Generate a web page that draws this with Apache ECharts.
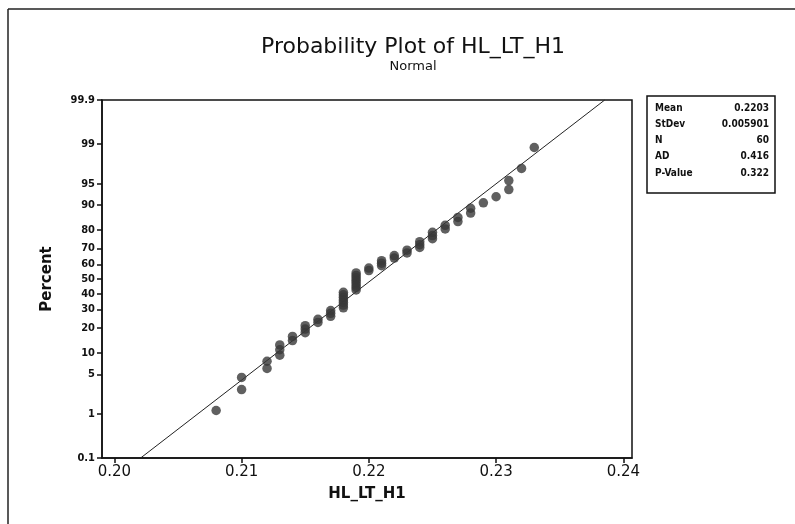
<!DOCTYPE html>
<html><head><meta charset="utf-8">
<script src="https://cdn.jsdelivr.net/npm/echarts@6/dist/echarts.min.js"></script>
<style>html,body{margin:0;padding:0;background:#fff}#c{width:795px;height:524px}</style>
</head><body><div id="c"></div>
<script>
// data values (HL_LT_H1), sorted
const xValues = [0.208,0.210,0.210,0.212,0.212,0.213,0.213,0.213,0.214,0.214,
  0.215,0.215,0.215,0.216,0.216,0.217,0.217,0.217,0.218,0.218,
  0.218,0.218,0.218,0.218,0.218,0.219,0.219,0.219,0.219,0.219,
  0.219,0.219,0.219,0.220,0.220,0.221,0.221,0.221,0.222,0.222,
  0.223,0.223,0.224,0.224,0.224,0.225,0.225,0.225,0.226,0.226,
  0.227,0.227,0.228,0.228,0.229,0.230,0.231,0.231,0.232,0.233];
// plotting positions (percent)
const percents = [1.159,2.815,4.470,6.126,7.781,9.437,11.093,12.748,14.404,16.060,
  17.715,19.371,21.026,22.682,24.338,25.993,27.649,29.305,30.960,32.616,
  34.272,35.927,37.583,39.238,40.894,42.550,44.205,45.861,47.517,49.172,
  50.828,52.483,54.139,55.795,57.450,59.106,60.762,62.417,64.073,65.728,
  67.384,69.040,70.695,72.351,74.007,75.662,77.318,78.974,80.629,82.285,
  83.940,85.596,87.252,88.907,90.563,92.219,93.874,95.530,97.185,98.841];
const yTickPercents = [0.1,1,5,10,20,30,40,50,60,70,80,90,95,99,99.9];
const yTickLabels = ['0.1','1','5','10','20','30','40','50','60','70','80','90','95','99','99.9'];
const xTicks = [0.20,0.21,0.22,0.23,0.24];
const statLabels = ['Mean','StDev','N','AD','P-Value'];
const statValues = ['0.2203','0.005901','60','0.416','0.322'];
const fitMean = 0.2203, fitSd = 0.005901;

function invNorm(p){
  const a=[-3.969683028665376e+01,2.209460984245205e+02,-2.759285104469687e+02,1.383577518672690e+02,-3.066479806614716e+01,2.506628277459239e+00];
  const b=[-5.447609879822406e+01,1.615858368580409e+02,-1.556989798598866e+02,6.680131188771972e+01,-1.328068155288572e+01];
  const c=[-7.784894002430293e-03,-3.223964580411365e-01,-2.400758277161838e+00,-2.549732539343734e+00,4.374664141464968e+00,2.938163982698783e+00];
  const d=[7.784695709041462e-03,3.224671290700398e-01,2.445134137142996e+00,3.754408661907416e+00];
  const pl=0.02425, ph=1-pl; let q,r;
  if(p<pl){q=Math.sqrt(-2*Math.log(p));return (((((c[0]*q+c[1])*q+c[2])*q+c[3])*q+c[4])*q+c[5])/((((d[0]*q+d[1])*q+d[2])*q+d[3])*q+1);}
  if(p<=ph){q=p-0.5;r=q*q;return (((((a[0]*r+a[1])*r+a[2])*r+a[3])*r+a[4])*r+a[5])*q/(((((b[0]*r+b[1])*r+b[2])*r+b[3])*r+b[4])*r+1);}
  q=Math.sqrt(-2*Math.log(1-p));return -(((((c[0]*q+c[1])*q+c[2])*q+c[3])*q+c[4])*q+c[5])/((((d[0]*q+d[1])*q+d[2])*q+d[3])*q+1);
}
const yTickZ = yTickPercents.map(p=>invNorm(p/100));
const zMin = yTickZ[0], zMax = yTickZ[yTickZ.length-1];
const points = xValues.map((x,i)=>[x, invNorm(percents[i]/100)]);
const fitLine = [[fitMean+fitSd*zMin, zMin],[fitMean+fitSd*zMax, zMax]];

const FONT = "'DejaVu Sans',sans-serif";
const CFONT = "'DejaVu Sans Condensed','DejaVu Sans',sans-serif";
const chart = echarts.init(document.getElementById('c'), null, {renderer:'canvas'});

const statGraphics = [];
statLabels.forEach((s,i)=>{
  statGraphics.push({type:'text', x:655, y:103+i*16.3, style:{text:s, font:'bold 10px '+CFONT, fill:'#111', align:'left'}});
  statGraphics.push({type:'text', x:769, y:103+i*16.3, style:{text:statValues[i], font:'bold 10px '+CFONT, fill:'#111', align:'right'}});
});

chart.setOption({
  animation:false,
  backgroundColor:'#fff',
  grid:{left:102, top:100, right:163, bottom:66, show:true, borderColor:'#111', borderWidth:1.5, backgroundColor:'transparent'},
  xAxis:{type:'value', min:0.19903, max:0.24068,
    name:'HL_LT_H1', nameLocation:'middle', nameGap:29,
    nameTextStyle:{fontFamily:FONT, fontWeight:'bold', fontSize:15, color:'#111'},
    axisLine:{show:true, onZero:false, lineStyle:{color:'#111', width:1.5}},
    axisTick:{show:true, length:5, lineStyle:{color:'#111', width:1.5}, customValues:xTicks},
    axisLabel:{customValues:xTicks, formatter:v=>v.toFixed(2), fontFamily:FONT, fontSize:15, color:'#111', margin:7},
    splitLine:{show:false}},
  yAxis:{type:'value', min:zMin, max:zMax,
    name:'Percent', nameLocation:'middle', nameGap:47, nameRotate:90,
    nameTextStyle:{fontFamily:FONT, fontWeight:'bold', fontSize:15, color:'#111'},
    axisLine:{show:true, onZero:false, lineStyle:{color:'#111', width:1.5}},
    axisTick:{show:true, length:5, lineStyle:{color:'#111', width:1.5}, customValues:yTickZ},
    axisLabel:{customValues:yTickZ, fontFamily:CFONT, fontWeight:'bold', fontSize:11, color:'#111', margin:7,
      formatter:function(v){let best=0,bd=1e9;yTickZ.forEach((z,i)=>{const dd=Math.abs(z-v);if(dd<bd){bd=dd;best=i;}});return yTickLabels[best];}},
    splitLine:{show:false}},
  series:[
    {type:'line', data:fitLine, symbol:'none', clip:true, lineStyle:{color:'#222', width:1}, silent:true, z:2},
    {type:'scatter', data:points, symbol:'circle', symbolSize:9.5, itemStyle:{color:'#383838'}, z:3}
  ],
  graphic:[
    {type:'line', shape:{x1:8,y1:9,x2:795,y2:9}, style:{stroke:'#222', lineWidth:1.5}},
    {type:'line', shape:{x1:8,y1:9,x2:8,y2:524}, style:{stroke:'#222', lineWidth:1.5}},
    {type:'text', x:413, y:36, style:{text:'Probability Plot of HL_LT_H1', font:'22px '+FONT, fill:'#111', align:'center'}},
    {type:'text', x:413, y:60, style:{text:'Normal', font:'13px '+FONT, fill:'#111', align:'center'}},
    {type:'rect', shape:{x:647,y:96,width:128,height:97}, style:{fill:'none', stroke:'#111', lineWidth:1.5}},
    ...statGraphics
  ]
});
</script></body></html>
